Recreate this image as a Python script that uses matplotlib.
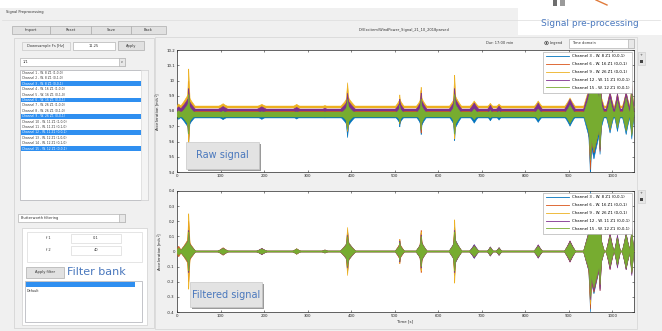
import matplotlib
matplotlib.use('Agg')
import matplotlib.pyplot as plt
from matplotlib.patches import Rectangle, Circle, Polygon
from matplotlib.lines import Line2D
from matplotlib.ticker import FuncFormatter

# channels shown in the plots (plot order = legend order)
channels = ['Channel 3 - W. 8 Z1 (0,0,1)', 'Channel 6 - W. 16 Z1 (0,0,1)',
            'Channel 9 - W. 26 Z1 (0,0,1)', 'Channel 12 - W. 11 Z1 (0,0,1)',
            'Channel 15 - W. 12 Z1 (0,0,1)']
colors = ['#0072BD', '#D95319', '#EDB120', '#7E2F8E', '#77AC30']

# raw offset (gravity) and quiet noise band per channel [m/s^2]
dc_level = [9.765, 9.795, 9.826, 9.808, 9.778]
raw_noise = [0.010, 0.004, 0.007, 0.005, 0.015]
filt_noise = [0.003, 0.004, 0.003, 0.003, 0.005]

# vibration bursts: centre [s], half width [s], envelope amplitude per channel
burst_t = [4, 25, 27, 106, 195, 275, 340, 393, 392, 512, 512, 562, 561, 640, 638,
           683, 720, 740, 830, 903, 958, 950, 972, 995, 1012, 1032, 1045]
burst_w = [8, 18, 4, 13, 13, 10, 8, 18, 5, 11, 3, 13, 4, 15, 4,
           11, 7, 7, 10, 13, 24, 6, 5, 9, 7, 9, 5]
amp_ch3 = [0.020, 0.070, 0.17, 0.022, 0.020, 0.018, 0.010, 0.065, 0.14, 0.045, 0.07, 0.060, 0.12,
           0.075, 0.16, 0.045, 0.030, 0.025, 0.040, 0.065, 0.28, 0.40, 0.25, 0.11, 0.10, 0.12, 0.15]
amp_ch6 = [0.035, 0.075, 0.20, 0.025, 0.020, 0.018, 0.010, 0.060, 0.13, 0.050, 0.08, 0.060, 0.14,
           0.070, 0.15, 0.040, 0.030, 0.025, 0.040, 0.070, 0.27, 0.38, 0.26, 0.12, 0.10, 0.12, 0.14]
amp_ch9 = [0.020, 0.080, 0.25, 0.022, 0.018, 0.018, 0.010, 0.065, 0.16, 0.050, 0.08, 0.060, 0.13,
           0.070, 0.21, 0.040, 0.025, 0.020, 0.040, 0.060, 0.25, 0.35, 0.22, 0.10, 0.09, 0.10, 0.15]
amp_ch12 = [0.020, 0.070, 0.14, 0.022, 0.020, 0.016, 0.010, 0.060, 0.11, 0.045, 0.07, 0.060, 0.11,
            0.070, 0.14, 0.045, 0.030, 0.025, 0.045, 0.070, 0.26, 0.32, 0.26, 0.12, 0.11, 0.12, 0.16]
amp_ch15 = [0.025, 0.065, 0.13, 0.020, 0.017, 0.016, 0.008, 0.055, 0.10, 0.040, 0.06, 0.055, 0.10,
            0.065, 0.13, 0.035, 0.025, 0.020, 0.035, 0.060, 0.24, 0.30, 0.22, 0.10, 0.09, 0.11, 0.14]
amps = [amp_ch3, amp_ch6, amp_ch9, amp_ch12, amp_ch15]

t_end = 1050
raw_ticks = [9.4, 9.5, 9.6, 9.7, 9.8, 9.9, 10.0, 10.1, 10.2]
filt_ticks = [-0.4, -0.3, -0.2, -0.1, 0, 0.1, 0.2, 0.3, 0.4]
time_ticks = [0, 100, 200, 300, 400, 500, 600, 700, 800, 900, 1000]

list_items = ['Channel %d - W. %d Z1 (%s)' % (i + 1, [8, 16, 26, 11, 12][i // 3],
              ['1,0,0', '0,1,0', '0,0,1'][i % 3]) for i in range(15)]
selected = [2, 5, 8, 11, 14]

W, H = 662, 331
fig = plt.figure(figsize=(W / 100, H / 100), dpi=100)
fig.patch.set_facecolor('#f0f0f0')

bg = fig.add_axes([0, 0, 1, 1], zorder=-1)
bg.set_xlim(0, W)
bg.set_ylim(H, 0)
bg.axis('off')
top = fig.add_axes([0, 0, 1, 1], zorder=5)
top.set_xlim(0, W)
top.set_ylim(H, 0)
top.axis('off')

BLUE_TXT = '#4a78bd'
HILITE = '#2f8ff0'


def box(ax, x, y, w, h, fc='white', ec='#b4b4b4', lw=0.5, z=1):
    ax.add_patch(Rectangle((x, y), w, h, facecolor=fc, edgecolor=ec, lw=lw, zorder=z))


def txt(ax, x, y, s, size=2.6, color='#333333', ha='center', **kw):
    ax.text(x, y, s, fontsize=size, color=color, ha=ha, va='center', zorder=4, **kw)


# window chrome
box(bg, 0, 0, W, 8, fc='white', ec='none')
txt(bg, 6, 12, 'Signal Preprocessing', ha='left')
bg.plot([2, 660], [20, 20], color='#dcdcdc', lw=0.5)
box(bg, 518, 0, 144, 35, fc='white', ec='none')
box(bg, 553, 0, 4, 6, fc='#6e6e6e', ec='none')
box(bg, 560, 0, 5, 6, fc='#9a9a9a', ec='none')
bg.plot([596, 607], [0, 5], color='#e07a3a', lw=1)
txt(bg, 590, 23, 'Signal pre-processing', size=6.5, color=BLUE_TXT)

# top buttons
for x0, x1, s in [(12, 50, 'Import'), (50, 91, 'Reset'), (91, 131, 'Save'), (131, 166, 'Back')]:
    box(bg, x0, 26, x1 - x0, 8, fc='#e1e1e1', ec='#adadad')
    txt(bg, (x0 + x1) / 2, 30, s)
txt(bg, 404, 30, r'D:\Excitem\WindPower_Signal_21_10_2018parsed', size=2.6)

# left panel
box(bg, 14, 38, 140, 290, fc='#f0f0f0', ec='#d0d0d0')
box(bg, 22, 42, 48, 8, fc='#f0f0f0', ec='#c8c8c8')
txt(bg, 46, 46, 'Downsample Fs [Hz]')
box(bg, 73, 42, 42, 8)
txt(bg, 94, 46, '11.25')
box(bg, 118, 41, 26, 9, fc='#e1e1e1', ec='#adadad')
txt(bg, 131, 45.5, 'Apply')
box(bg, 20, 58, 105, 8)
txt(bg, 23, 62, '1/1', ha='left')
box(bg, 119, 58, 6, 8, fc='#e8e8e8')
txt(bg, 122, 62, 'v', size=2.2)

box(bg, 20, 70, 128, 130, ec='#abadb3')
box(bg, 141, 70, 7, 130, fc='#f4f4f4', ec='#d8d8d8')
for i, s in enumerate(list_items):
    y = 73 + i * 5.4
    if i in selected:
        box(bg, 20.5, y - 2.4, 120, 4.8, fc=HILITE, ec='none', z=2)
        txt(bg, 22, y, s, size=2.2, color='white', ha='left')
    else:
        txt(bg, 22, y, s, size=2.2, ha='left')

box(bg, 18, 214, 107, 8)
txt(bg, 21, 218, 'Butterworth filtering', ha='left')
box(bg, 119, 214, 6, 8, fc='#e8e8e8')

box(bg, 22, 228, 125, 97, fc='white', ec='#d0d0d0')
box(bg, 27, 232, 115, 30, fc='white', ec='#dadada')
for y, lab, val in [(238, 'f 1', '0.1'), (250, 'f 2', '40')]:
    txt(bg, 48, y, lab)
    box(bg, 71, y - 4.5, 50, 9, ec='#dadada')
    txt(bg, 96, y, val)
box(bg, 26, 267, 38, 11, fc='#e1e1e1', ec='#adadad')
txt(bg, 45, 272.5, 'Apply filter')
txt(bg, 96, 272, 'Filter bank', size=8, color=BLUE_TXT)
box(bg, 25, 281, 117, 41, ec='#abadb3')
box(bg, 26, 282, 109, 5, fc=HILITE, ec='none', z=2)
txt(bg, 27, 291, 'Default', ha='left', size=2.4)

# plot panel
box(bg, 155, 37, 482, 292, fc='#f0f0f0', ec='#d4d4d4')
txt(bg, 500, 43, 'Dur: 17:00 min')
bg.add_patch(Circle((546.5, 43), 1.8, facecolor='white', edgecolor='#333333', lw=0.4, zorder=3))
bg.add_patch(Circle((546.5, 43), 0.9, facecolor='#333333', zorder=4))
txt(bg, 550, 43, 'Legend', ha='left')
box(bg, 569, 39, 65, 9)
txt(bg, 572, 43.5, 'Time domain', ha='left')
box(bg, 628, 39, 6, 9, fc='#e8e8e8')
for y0 in (52, 190):
    box(bg, 638, y0, 7, 13, fc='#e6e6e6', ec='#cfcfcf')
    txt(bg, 641.5, y0 + 3, '+', size=2.5)
    box(bg, 640, y0 + 8, 3, 3, fc='#444444', ec='none')

ax1 = fig.add_axes([177 / W, 1 - 172 / H, 457 / W, 122 / H])
ax2 = fig.add_axes([177 / W, 1 - 312 / H, 457 / W, 121 / H])


def spindle(ax, c, w, a, base, color, z):
    fx = [-1, -0.45, -0.15, 0, 0.15, 0.45, 1, 0.45, 0.15, 0, -0.15, -0.45]
    fy = [0, 0.5, 0.82, 1, 0.82, 0.5, 0, -0.5, -0.82, -1, -0.82, -0.5]
    pts = [(c + w * u, base + a * v) for u, v in zip(fx, fy)]
    ax.add_patch(Polygon(pts, closed=True, facecolor=color, edgecolor=color,
                         lw=0.4, zorder=z))


for ax, levels, noise in [(ax1, dc_level, raw_noise), (ax2, [0] * 5, filt_noise)]:
    for k in range(5):
        ax.fill_between([0, t_end], levels[k] - noise[k], levels[k] + noise[k],
                        color=colors[k], lw=0.3, zorder=2 + k)
        for c, w, a in zip(burst_t, burst_w, amps[k]):
            spindle(ax, c, w, a, levels[k], colors[k], 2 + k)

ax1.set_ylim(9.4, 10.2)
ax1.set_yticks(raw_ticks)
ax2.set_ylim(-0.4, 0.4)
ax2.set_yticks(filt_ticks)
for ax in (ax1, ax2):
    ax.set_xlim(0, t_end)
    ax.set_xticks(time_ticks)
    ax.yaxis.set_major_formatter(FuncFormatter(lambda v, p: '%g' % round(v, 2)))
    ax.tick_params(direction='in', length=1.5, width=0.4, labelsize=2.8, pad=1.5,
                   top=True, right=True, colors='#262626')
    for sp in ax.spines.values():
        sp.set_linewidth(0.5)
        sp.set_color('#262626')
    ax.set_ylabel('Acceleration [m/s$^2$]', fontsize=2.8, labelpad=2, color='#262626')
    handles = [Line2D([], [], color=c, lw=0.6) for c in colors]
    leg = ax.legend(handles, channels, loc='upper right', fontsize=2.8, fancybox=False,
                    edgecolor='#a0a0a0', framealpha=1, labelspacing=1.0, handlelength=6,
                    borderaxespad=0.4, borderpad=0.7)
    leg.get_frame().set_linewidth(0.4)
    leg.set_zorder(20)
ax2.set_xlabel('Time [s]', fontsize=2.8, labelpad=1, color='#262626')

# overlay labels
for x, y, w, h, s in [(186, 142, 73, 27, 'Raw signal'), (190, 282, 72, 25, 'Filtered signal')]:
    box(top, x + 1.5, y + 1.5, w, h, fc='#9a9a9a', ec='none')
    box(top, x, y, w, h, fc='#e3e3e3', ec='#c8c8c8')
    txt(top, x + w / 2, y + h / 2, s, size=7, color=BLUE_TXT)

fig.savefig('out.png', dpi=100, facecolor=fig.get_facecolor())
